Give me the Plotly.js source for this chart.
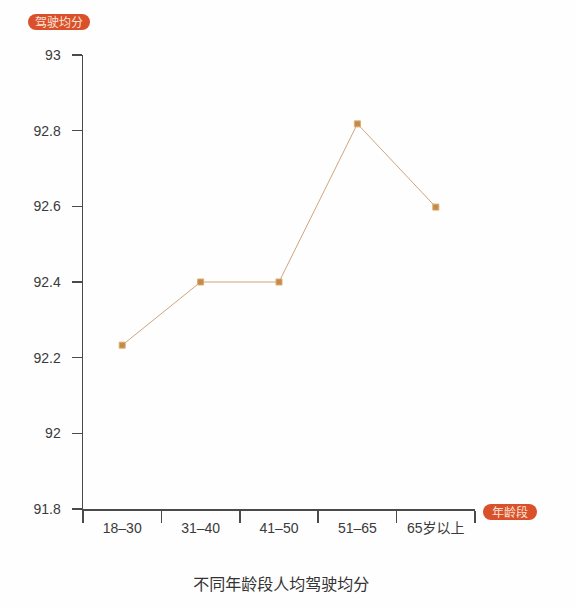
<!DOCTYPE html>
<html>
<head>
<meta charset="utf-8">
<script src="https://cdn.plot.ly/plotly-3.0.1.min.js"></script>
<style>html,body{margin:0;padding:0;background:#fefefe;}#chart{width:575px;height:608px;}</style>
</head>
<body>
<div id="chart"></div>
<script>
var ageGroups = ['18–30', '31–40', '41–50', '51–65', '65岁以上'];
var avgScores = [92.233, 92.40, 92.40, 92.818, 92.598];
var yTickVals = [91.8, 92, 92.2, 92.4, 92.6, 92.8, 93];
var yTickText = ['91.8', '92', '92.2', '92.4', '92.6', '92.8', '93'];
var chartTitle = '不同年龄段人均驾驶均分';
var yLabel = '驾驶均分';
var xLabel = '年龄段';

var fontFam = 'Liberation Sans, Arial, Noto Sans CJK SC, sans-serif';
var pillColor = '#d9502a';

function pill(cx, cy, halfW, r) {
  var base = {xref: 'paper', yref: 'paper', xsizemode: 'pixel', ysizemode: 'pixel',
              xanchor: cx, yanchor: cy, fillcolor: pillColor, line: {width: 0}, layer: 'above'};
  return [
    Object.assign({type: 'rect', x0: -halfW, x1: halfW, y0: -r, y1: r}, base),
    Object.assign({type: 'circle', x0: -halfW - r, x1: -halfW + r, y0: -r, y1: r}, base),
    Object.assign({type: 'circle', x0: halfW - r, x1: halfW + r, y0: -r, y1: r}, base)
  ];
}

var trace = {
  x: ageGroups,
  y: avgScores,
  type: 'scatter',
  mode: 'lines+markers',
  line: {color: '#cfa47c', width: 1},
  marker: {symbol: 'square', size: 6, color: '#c08a50', line: {color: '#e2ac66', width: 1}},
  hoverinfo: 'skip'
};

var layout = {
  width: 575,
  height: 608,
  paper_bgcolor: '#fefefe',
  plot_bgcolor: '#fefefe',
  margin: {l: 83, r: 100, t: 55, b: 99},
  showlegend: false,
  font: {family: fontFam, color: '#333'},
  title: {
    text: chartTitle,
    x: 0.489, xanchor: 'center',
    y: 0.038, yanchor: 'middle',
    font: {family: 'Noto Sans CJK SC, sans-serif', size: 16, color: '#333'}
  },
  xaxis: {
    type: 'category',
    range: [-0.5, 4.5],
    showline: true, linecolor: '#4a4a4a', linewidth: 1.5,
    ticks: 'outside', tickson: 'boundaries', ticklen: 12, tickcolor: '#4a4a4a', tickwidth: 1.5,
    ticklabelstandoff: 6,
    showgrid: false, zeroline: false,
    tickfont: {family: 'Liberation Sans, Noto Sans CJK SC, sans-serif', size: 14, color: '#3a3a3a'}
  },
  yaxis: {
    range: [91.8, 93],
    tickvals: yTickVals,
    ticktext: yTickText,
    showline: true, linecolor: '#4a4a4a', linewidth: 1.5,
    ticks: 'outside', ticklen: 10, tickcolor: '#4a4a4a', tickwidth: 1.5,
    ticklabelstandoff: 8,
    showgrid: false, zeroline: false,
    tickfont: {family: 'Liberation Sans, sans-serif', size: 14, color: '#3a3a3a'}
  },
  shapes: [].concat(pill(-0.0612, 1.0727, 23, 8), pill(1.0893, -0.0066, 19, 8)),
  annotations: [
    {text: yLabel, xref: 'paper', yref: 'paper', x: -0.0612, y: 1.0727,
     xanchor: 'center', yanchor: 'middle', showarrow: false,
     font: {family: 'Noto Sans CJK SC, sans-serif', size: 12, color: '#fbe3d6'}},
    {text: xLabel, xref: 'paper', yref: 'paper', x: 1.0893, y: -0.0066,
     xanchor: 'center', yanchor: 'middle', showarrow: false,
     font: {family: 'Noto Sans CJK SC, sans-serif', size: 12, color: '#fbe3d6'}}
  ]
};

Plotly.newPlot('chart', [trace], layout, {displayModeBar: false, staticPlot: true});
</script>
</body>
</html>
